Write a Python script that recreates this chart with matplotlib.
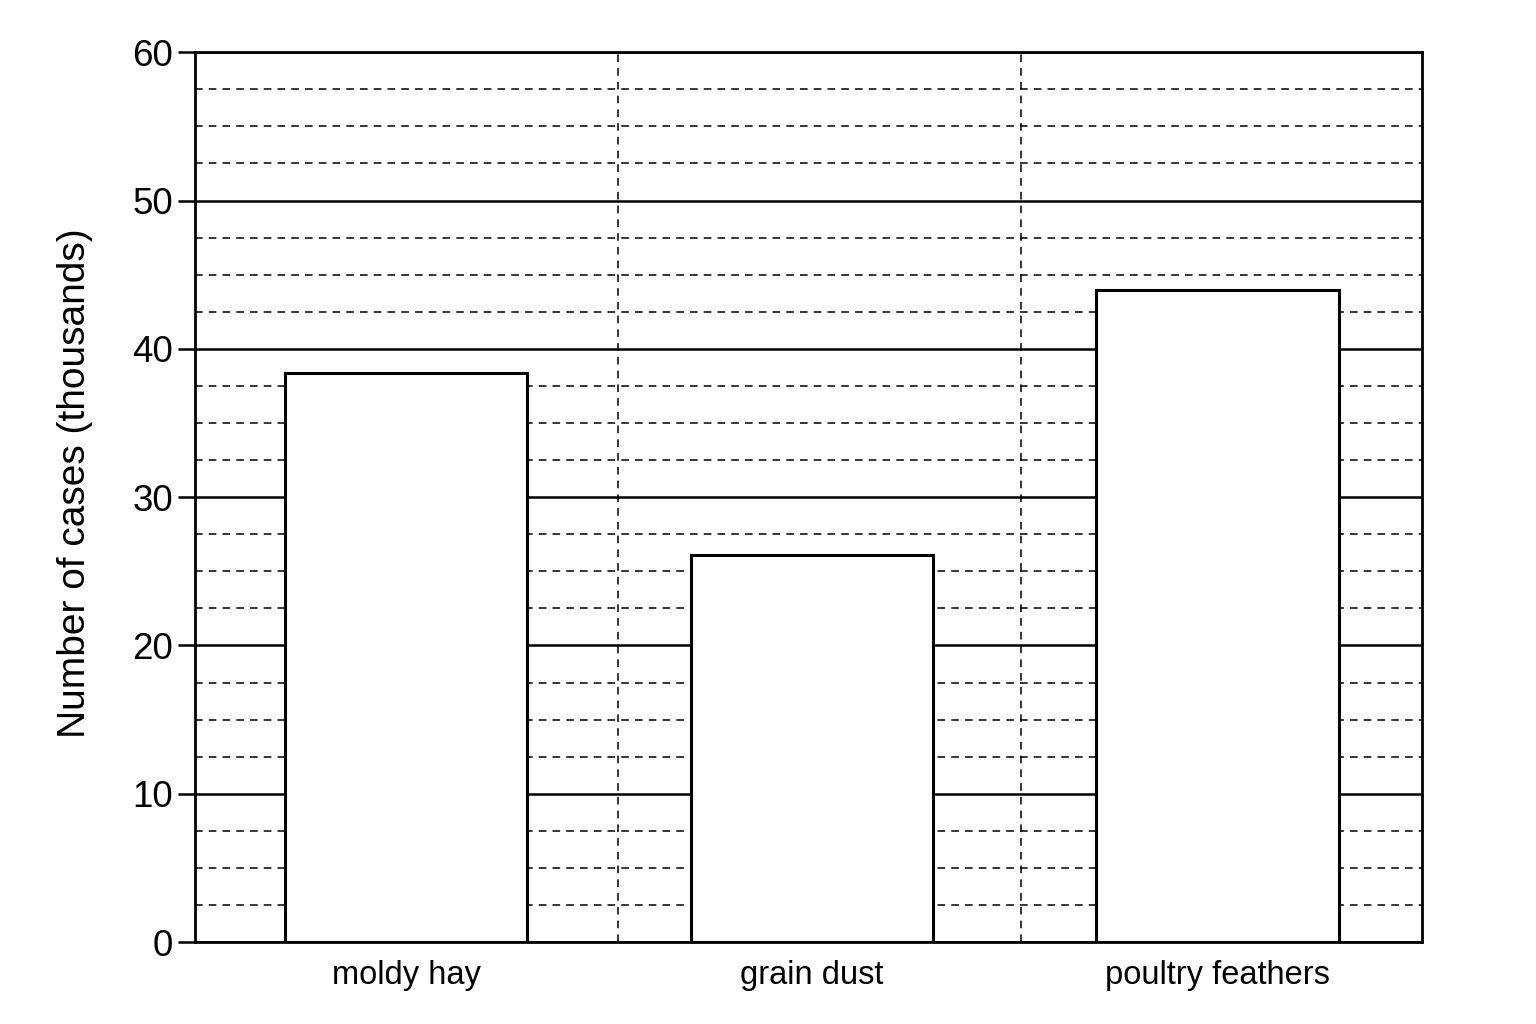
import matplotlib
matplotlib.use("Agg")
import matplotlib.pyplot as plt
from matplotlib.ticker import MultipleLocator

categories = ["moldy hay", "grain dust", "poultry feathers"]
cases_thousands = [38.4, 26.1, 44.0]
y_ticks = [0, 10, 20, 30, 40, 50, 60]

plt.rcParams['font.family'] = ['Liberation Sans', 'DejaVu Sans']

fig = plt.figure(figsize=(15.36, 10.24), dpi=100)
ax = fig.add_axes([0.127, 0.080, 0.799, 0.869])

x = list(range(len(categories)))
ax.set_xlim(-0.52, 2.505)
ax.set_ylim(0, 60)

ax.yaxis.set_major_locator(MultipleLocator(10))
ax.yaxis.set_minor_locator(MultipleLocator(2.5))
ax.set_yticks(y_ticks)
ax.grid(which='major', axis='y', color='black', linewidth=1.8, linestyle='-', zorder=1)
ax.grid(which='minor', axis='y', color='black', linewidth=1.1, linestyle=(0, (5, 4)), zorder=1)
ax.set_axisbelow(True)

for b in [0.522, 1.515]:
    ax.axvline(b, color='black', linewidth=1.1, linestyle=(0, (5, 4)), zorder=1)

ax.bar(x, cases_thousands, width=0.597, color='white', edgecolor='black', linewidth=2.2, zorder=3)

ax.set_xticks(x)
ax.set_xticklabels(categories, fontsize=23.5)
ax.tick_params(axis='x', length=0, pad=13)
ax.tick_params(axis='y', which='major', length=12, width=1.8, labelsize=26.5, pad=4)
ax.tick_params(axis='y', which='minor', length=0)

for s in ax.spines.values():
    s.set_linewidth(2)
    s.set_color('black')

ax.set_ylabel("Number of cases (thousands)", fontsize=28)
ax.yaxis.set_label_coords(-0.083, 0.516)

fig.savefig("out.png", dpi=100, facecolor='white')
